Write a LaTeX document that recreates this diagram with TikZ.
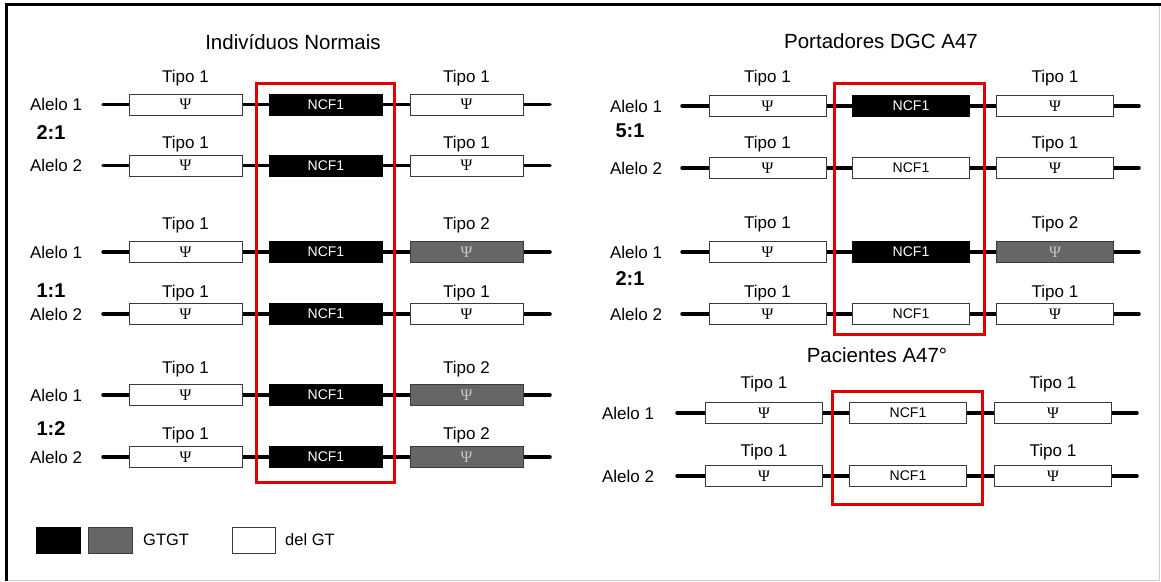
\documentclass[tikz,border=0pt]{standalone}
\usepackage{fontspec}
\setmainfont{Liberation Sans}
\newfontfamily\psifont{Liberation Serif}
\definecolor{boxedge}{HTML}{3A3A3A}
\definecolor{gtgray}{HTML}{666666}
\definecolor{redframe}{HTML}{E00000}
\definecolor{psigray}{HTML}{C8C8C8}
\newcommand\psisym{{\psifont\fontsize{16}{16}\selectfont Ψ}}
\tikzset{
  gbox/.style={draw=boxedge, line width=0.9pt, minimum height=21pt, inner sep=0pt, anchor=center},
  wbox/.style={gbox, fill=white, text=black},
  bbox/.style={gbox, fill=black, draw=black, text=white},
  dbox/.style={gbox, fill=gtgray, text=psigray},
  chrom/.style={line width=3.5pt, line cap=round},
  redbox/.style={draw=redframe, line width=3pt},
  lbl/.style={font=\fontsize{17}{17}\selectfont, inner sep=0pt, anchor=base},
  ratiolbl/.style={font=\fontsize{20}{20}\selectfont\bfseries, inner sep=0pt, anchor=base},
  ttl/.style={font=\fontsize{20.5}{20.5}\selectfont, inner sep=0pt, anchor=base},
  ncftext/.style={font=\fontsize{14}{14}\selectfont},
  legtext/.style={font=\fontsize{16.5}{16.5}\selectfont, inner sep=0pt, anchor=base west},
}
% #1 name, #2 y, #3 style left, #4 style middle, #5 style right
\newcommand\generow[5]{%
  \coordinate (#1s) at (\xs,#2);
  \coordinate (#1e) at (\xe,#2);
  \draw[chrom] (#1s) -- (#1e);
  \node[#3, minimum width=\bw] (#1L) at (\cL,#2) {\psisym};
  \node[#4, minimum width=\bw, ncftext] (#1M) at (\cM,#2) {NCF1};
  \node[#5, minimum width=\bw] (#1R) at (\cR,#2) {\psisym};
}
% #1 name, #2 y of label centre, #3 left text, #4 right text
\newcommand\tipos[4]{%
  \node[lbl] (#1tl) at (\cL,#2+6.1) {#3};
  \node[lbl] (#1tr) at (\cR,#2+6.1) {#4};
}
\begin{document}
\begin{tikzpicture}[x=1pt,y=-1pt]
\useasboundingbox (0,0) rectangle (1161,581);
\fill[white] (0,0) rectangle (1161,581);
% frame
\draw[black!20, line width=1pt] (1159.5,5) -- (1159.5,580) -- (6,580);
\draw[line width=3pt] (6.5,581) -- (6.5,4.5) -- (1161,4.5);

% ---------------- left panel ----------------
\node[ttl] (t1) at (293,49.2) {Indivíduos Normais};
\def\xs{103}\def\xe{550}\def\cL{185.5}\def\cM{326}\def\cR{466.5}\def\bw{113pt}
\tipos{a}{76}{Tipo 1}{Tipo 1}
\generow{a}{104.5}{wbox}{bbox}{wbox}
\tipos{b}{142}{Tipo 1}{Tipo 1}
\generow{b}{165.5}{wbox}{bbox}{wbox}
\tipos{c}{223}{Tipo 1}{Tipo 2}
\generow{c}{252}{wbox}{bbox}{dbox}
\tipos{d}{291}{Tipo 1}{Tipo 1}
\generow{d}{314}{wbox}{bbox}{wbox}
\tipos{e}{367}{Tipo 1}{Tipo 2}
\generow{e}{395}{wbox}{bbox}{dbox}
\tipos{f}{433}{Tipo 1}{Tipo 2}
\generow{f}{457}{wbox}{bbox}{dbox}
\foreach \n/\y/\t in {a/104.5/1, b/165.5/2, c/252/1, d/314/2, e/395/1, f/457/2}
  \node[lbl] (\n al) at (56,\y+6.1) {Alelo \t};
\node[ratiolbl] (r1) at (51,139.2) {2:1};
\node[ratiolbl] (r2) at (51,297.2) {1:1};
\node[ratiolbl] (r3) at (51,435.2) {1:2};
\draw[redbox] (256,83) rectangle (394,482);

% ---------------- right panel ----------------
\node[ttl] (t2) at (881,48.2) {Portadores DGC A47};
\def\xs{682}\def\xe{1139}\def\cL{767.5}\def\cM{911}\def\cR{1055}\def\bw{117pt}
\tipos{g}{76}{Tipo 1}{Tipo 1}
\generow{g}{106}{wbox}{bbox}{wbox}
\tipos{h}{142}{Tipo 1}{Tipo 1}
\generow{h}{168}{wbox}{wbox}{wbox}
\tipos{i}{222}{Tipo 1}{Tipo 2}
\generow{i}{252}{wbox}{bbox}{dbox}
\tipos{j}{291}{Tipo 1}{Tipo 1}
\generow{j}{314}{wbox}{wbox}{wbox}
\foreach \n/\y/\t in {g/106/1, h/168/2, i/252/1, j/314/2}
  \node[lbl] (\n al) at (636,\y+6.1) {Alelo \t};
\node[ratiolbl] (r4) at (630,137.2) {5:1};
\node[ratiolbl] (r5) at (630,285.2) {2:1};
\draw[redbox] (834,83) rectangle (984,334);

% ---------------- pacientes ----------------
\node[ttl] (t3) at (877,362.2) {Pacientes A47°};
\def\xs{677}\def\xe{1137}\def\cL{764}\def\cM{908}\def\cR{1053}\def\bw{117pt}
\tipos{k}{382}{Tipo 1}{Tipo 1}
\generow{k}{413}{wbox}{wbox}{wbox}
\tipos{l}{450}{Tipo 1}{Tipo 1}
\generow{l}{476}{wbox}{wbox}{wbox}
\foreach \n/\y/\t in {k/413/1, l/476/2}
  \node[lbl] (\n al) at (628,\y+6.1) {Alelo \t};
\draw[redbox] (832,391) rectangle (982,504);

% ---------------- legend ----------------
\node[bbox, minimum width=44pt, minimum height=26pt] (legB) at (58,540) {};
\node[dbox, minimum width=44pt, minimum height=26pt] (legG) at (110,540) {};
\node[legtext] (legGT) at (143,545.9) {GTGT};
\node[wbox, minimum width=43pt, minimum height=26pt] (legW) at (253.5,540) {};
\node[legtext] (legDel) at (285,545.9) {del GT};
\end{tikzpicture}
\end{document}
